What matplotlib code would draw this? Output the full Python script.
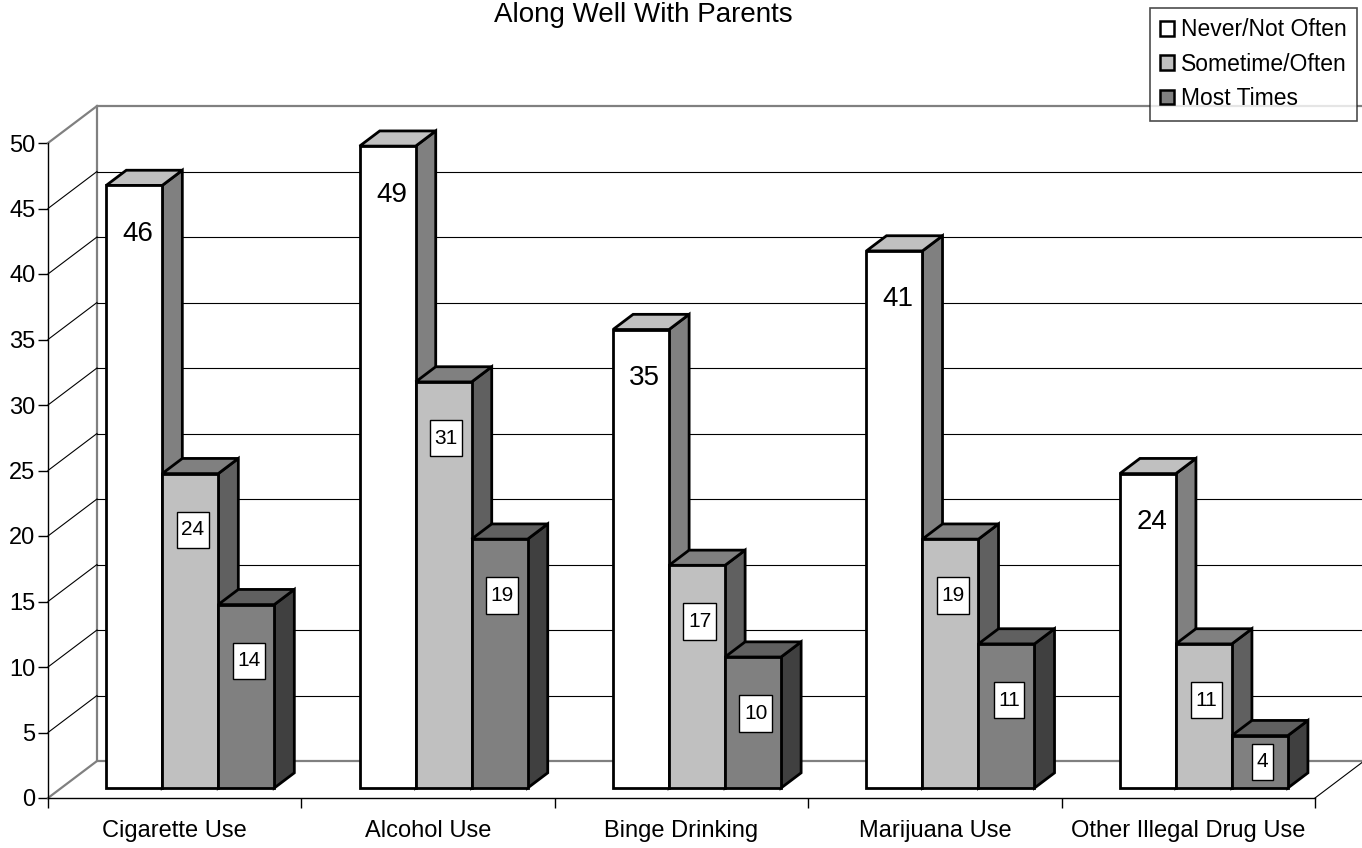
import matplotlib
matplotlib.use("Agg")
import matplotlib.pyplot as plt
from matplotlib.patches import Polygon, Patch
from matplotlib.path import Path

plt.rcParams['font.family'] = ['Liberation Sans', 'DejaVu Sans']

# ---------------- data ----------------
categories = ["Cigarette Use", "Alcohol Use", "Binge Drinking", "Marijuana Use",
              "Other Illegal Drug Use"]
series_names = ["Never/Not Often", "Sometime/Often", "Most Times"]
never_not_often = [46, 49, 35, 41, 24]
sometime_often = [24, 31, 17, 19, 11]
most_times = [14, 19, 10, 11, 4]
series_values = [never_not_often, sometime_often, most_times]
y_ticks = [0, 5, 10, 15, 20, 25, 30, 35, 40, 45, 50]
title_line = "Along Well With Parents"

# ---------------- style ----------------
front_colors = ["#ffffff", "#c0c0c0", "#808080"]
top_colors = ["#c0c0c0", "#808080", "#606060"]
side_colors = ["#808080", "#606060", "#404040"]
wall_gray = "#808080"

W, H = 1362, 848
fig = plt.figure(figsize=(W / 100, H / 100), dpi=100)
ax = fig.add_axes([48 / W, 50 / H, (1315 - 48) / W, 655 / H])
ncat = len(categories)
ymax = 50
ax.set_xlim(0, ncat)
ax.set_ylim(0, ymax)

# depth offsets (data units) for the full depth of the plot
px_x = (1315 - 48) / ncat
px_y = 655 / ymax
DX = 49 / px_x
DY = 37 / px_y


def P(x, y, d):
    return (x + d * DX, y + d * DY)


# back wall
ax.add_patch(Polygon([P(0, 0, 1), P(ncat, 0, 1), P(ncat, ymax, 1), P(0, ymax, 1)],
                     closed=True, facecolor="white", edgecolor=wall_gray, lw=1.6,
                     clip_on=False, zorder=1))
# gridlines on back wall and left wall
for v in y_ticks[1:-1]:
    xs, ys = zip(P(0, v, 1), P(ncat, v, 1))
    ax.plot(xs, ys, color="black", lw=0.8, clip_on=False, zorder=2)
    xs, ys = zip(P(0, v, 0), P(0, v, 1))
    ax.plot(xs, ys, color="black", lw=0.8, clip_on=False, zorder=2)
# left wall / floor edges
for v in (0, ymax):
    xs, ys = zip(P(0, v, 0), P(0, v, 1))
    ax.plot(xs, ys, color=wall_gray, lw=1.6, clip_on=False, zorder=2)
xs, ys = zip(P(ncat, 0, 0), P(ncat, 0, 1))
ax.plot(xs, ys, color="black", lw=0.8, clip_on=False, zorder=2)

# bars
bw = 56 / px_x
start = 45 / px_x
d0, d1 = 0.27, 0.68


def tall_box(x0, y0, width, height, mutation_size, *args):
    px = 0.22 * mutation_size
    py = 0.42 * mutation_size
    xa, ya = x0 - px, y0 - py
    xb, yb = x0 + width + px, y0 + height + py
    return Path([(xa, ya), (xb, ya), (xb, yb), (xa, yb), (xa, ya)],
                [Path.MOVETO, Path.LINETO, Path.LINETO, Path.LINETO, Path.CLOSEPOLY])


z = 3
for i in range(ncat):
    for j, vals in enumerate(series_values):
        v = vals[i]
        x0 = i + start + j * bw
        x1 = x0 + bw
        front = [P(x0, 0, d0), P(x1, 0, d0), P(x1, v, d0), P(x0, v, d0)]
        top = [P(x0, v, d0), P(x1, v, d0), P(x1, v, d1), P(x0, v, d1)]
        side = [P(x1, 0, d0), P(x1, v, d0), P(x1, v, d1), P(x1, 0, d1)]
        for poly, col in [(side, side_colors[j]), (top, top_colors[j]),
                          (front, front_colors[j])]:
            ax.add_patch(Polygon(poly, closed=True, facecolor=col, edgecolor="black",
                                 lw=2.0, joinstyle="miter", clip_on=False, zorder=z))
        z += 1
        cx = (x0 + x1) / 2
        if j == 0:
            ly = v - 3.7
            lx, lyy = P(cx + 0.015, ly, d0)
            ax.text(lx, lyy, str(v), ha="center", va="center", fontsize=20,
                    zorder=100)
        else:
            ly = max(v - 4.3, v * 0.5)
            lx, lyy = P(cx + 0.01, ly, d0)
            ax.text(lx, lyy, str(v), ha="center", va="center", fontsize=15,
                    zorder=100,
                    bbox=dict(boxstyle=tall_box, facecolor="white",
                              edgecolor="black", lw=1.0))

# axes spines and ticks
for s in ["top", "right"]:
    ax.spines[s].set_visible(False)
for s in ["left", "bottom"]:
    ax.spines[s].set_color("black")
    ax.spines[s].set_linewidth(1.0)
    ax.spines[s].set_zorder(2.5)
ax.set_facecolor("none")
ax.set_yticks(y_ticks)
ax.set_yticklabels([str(t) for t in y_ticks])
ax.tick_params(axis="y", direction="out", length=7.5, width=1.0, pad=1.5,
               labelsize=17, colors="black")
ax.set_xticks(range(ncat + 1))
ax.set_xticklabels([""] * (ncat + 1))
ax.tick_params(axis="x", which="major", direction="out", length=7.5, width=1.0)
ax.set_xticks([i + 0.5 for i in range(ncat)], minor=True)
ax.set_xticklabels(categories, minor=True)
ax.tick_params(axis="x", which="minor", length=0, pad=16, labelsize=17)

# legend
handles = [Patch(facecolor=c, edgecolor="black", lw=1.8) for c in front_colors]
leg = fig.legend(handles, series_names, loc="upper right",
                 bbox_to_anchor=(1357 / W, 1 - 8 / H), fontsize=16.5,
                 handlelength=0.6, handleheight=0.6, handletextpad=0.3,
                 labelspacing=0.5, borderpad=0.45, borderaxespad=0,
                 fancybox=False, frameon=True)
leg.get_frame().set_edgecolor("#202020")
leg.get_frame().set_linewidth(1.2)
leg.set_zorder(200)

# title (only the visible line of the title in the source)
fig.text(643 / W, 1 - 2 / H, title_line, ha="center", va="top", fontsize=20)

fig.savefig("out.png", dpi=100)
